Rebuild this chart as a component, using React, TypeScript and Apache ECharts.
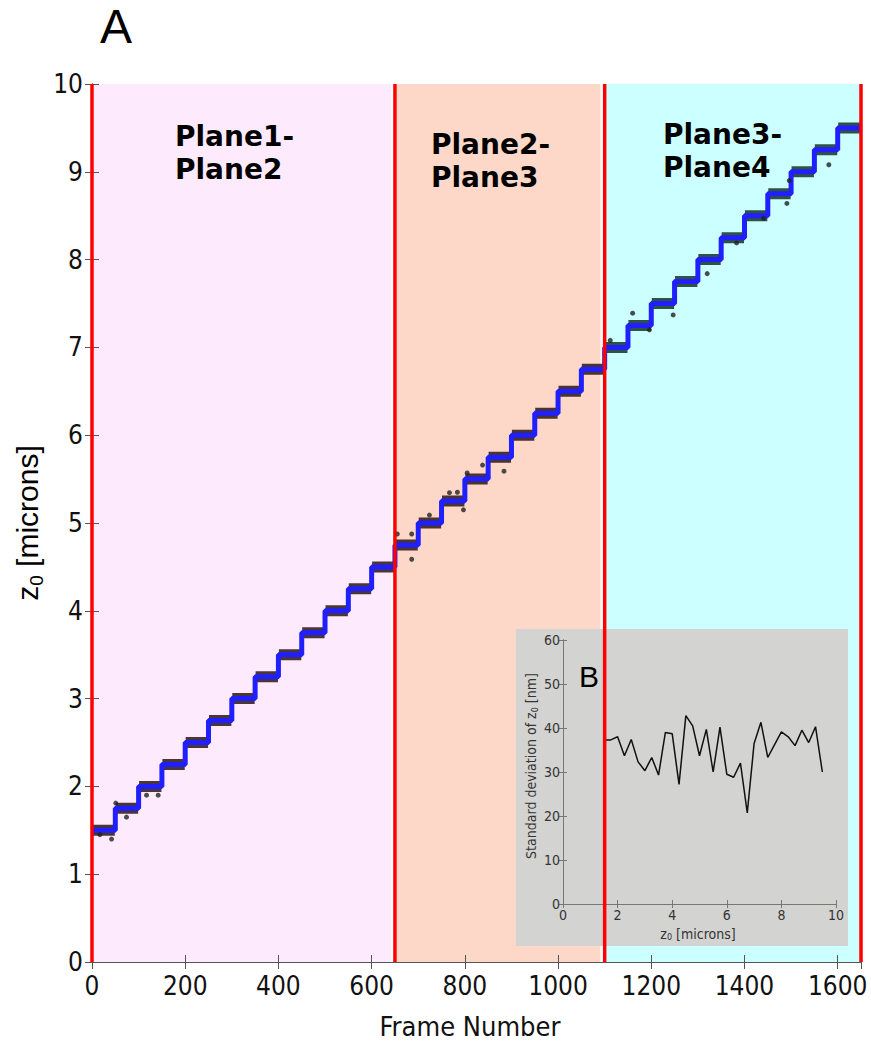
import React, { useEffect, useRef } from "react";
import * as echarts from "echarts";

// ---- data ----
const stepFrames = [0, 50, 100, 150, 200, 250, 300, 350, 400, 450, 500, 550, 600, 650, 700, 750, 800, 850, 900, 950, 1000, 1050, 1100, 1150, 1200, 1250, 1300, 1350, 1400, 1450, 1500, 1550, 1600, 1650];
const stepLevels = [1.5, 1.75, 2.0, 2.25, 2.5, 2.75, 3.0, 3.25, 3.5, 3.75, 4.0, 4.25, 4.5, 4.75, 5.0, 5.25, 5.5, 5.75, 6.0, 6.25, 6.5, 6.75, 7.0, 7.25, 7.5, 7.75, 8.0, 8.25, 8.5, 8.75, 9.0, 9.25, 9.5];
const planeBounds = [0, 650, 1100, 1650];
const planeLabels = ["Plane1-\nPlane2", "Plane2-\nPlane3", "Plane3-\nPlane4"];
const xTickLabels = ["0", "200", "400", "600", "800", "1000", "1200", "1400", "1600"];
const dotFrames = [17, 42, 51, 74, 117, 142, 655, 686, 686, 724, 767, 784, 797, 805, 838, 884, 1112, 1160, 1196, 1247, 1320, 1383, 1441, 1491, 1496, 1581];
const dotValues = [1.45, 1.4, 1.81, 1.65, 1.9, 1.9, 4.875, 4.875, 4.587, 5.09, 5.345, 5.35, 5.15, 5.57, 5.66, 5.59, 7.08, 7.39, 7.2, 7.37, 7.84, 8.19, 8.47, 8.64, 8.9, 9.08];
// inset B: standard deviation of z0 (nm) at each z0 level (microns)
const insetStd = [37.3, 37.3, 38.0, 33.7, 37.4, 32.3, 30.3, 33.3, 29.3, 39.0, 38.7, 27.2, 42.8, 40.5, 33.7, 39.7, 30.0, 40.2, 29.5, 28.8, 32.0, 20.7, 36.5, 41.3, 33.3, 36.2, 39.1, 38.0, 36.0, 39.5, 36.7, 40.3, 30.0];

const bandColors = ["#fdebfd", "#fdd8c8", "#ccffff"];
const noiseColors = ["#2a1616", "#2a1616", "#143424"];
const NARROW = "'Liberation Sans Narrow', 'Arial Narrow', 'DejaVu Sans Condensed', sans-serif";
const SANS = "'Liberation Sans', Arial, sans-serif";

export default function App() {
  const ref = useRef<HTMLDivElement>(null);
  useEffect(() => {
    if (!ref.current) return;
    const chart = echarts.init(ref.current, undefined, { renderer: "svg" });

    const lastLevel = stepLevels[stepLevels.length - 1];
    const blueData: any[] = stepLevels.map((v, i) => [stepFrames[i], v]);
    blueData.push([stepFrames[stepFrames.length - 1], lastLevel]);

    const noiseSeries = planeLabels.map((_, p) => {
      const data: any[] = [];
      stepLevels.forEach((v, i) => {
        const s = stepFrames[i];
        const e = stepFrames[i + 1];
        if (s >= planeBounds[p] && s < planeBounds[p + 1]) {
          data.push([s + 1, v], [e - 1, v], [e, "-"]);
        }
      });
      return {
        type: "line",
        xAxisIndex: 0,
        yAxisIndex: 0,
        data,
        showSymbol: false,
        connectNulls: false,
        lineStyle: { color: noiseColors[p], width: 11, opacity: 0.85 },
        z: 2,
        silent: true,
      };
    });

    const redData: any[] = [];
    planeBounds.forEach((b) => {
      redData.push([b, 0], [b, 10], [b, "-"]);
    });

    const bandEnds = [642, 1091, 1650];
    const bands = planeLabels.map((_, p) => [
      { xAxis: planeBounds[p], itemStyle: { color: bandColors[p] } },
      { xAxis: bandEnds[p] },
    ]);

    const mainAxisLine = { show: true, lineStyle: { color: "#555", width: 1 } };
    const mainTick = { show: true, inside: true, length: 7, lineStyle: { color: "#555" } };
    const insetAxisLine = { show: true, lineStyle: { color: "#777", width: 1 } };
    const insetTick = { show: true, inside: true, length: 4, lineStyle: { color: "#777" } };

    const option: any = {
      animation: false,
      backgroundColor: "#ffffff",
      grid: [
        { left: 92, top: 84, width: 769, height: 878 },
        { left: 563, top: 640, width: 273, height: 264 },
      ],
      xAxis: [
        {
          gridIndex: 0, type: "value", min: 0, max: 1650, interval: 200, position: "bottom",
          axisLine: mainAxisLine, axisTick: mainTick, splitLine: { show: false },
          axisLabel: { fontSize: 26, color: "#111", fontFamily: NARROW, margin: 11, showMaxLabel: false,
            formatter: (v: number) => xTickLabels[Math.round(v / 200)] ?? "" },
          z: 3,
        },
        {
          gridIndex: 0, type: "value", min: 0, max: 1650, interval: 200, position: "top",
          axisLine: mainAxisLine, axisTick: mainTick, splitLine: { show: false }, axisLabel: { show: false }, z: 3,
        },
        {
          gridIndex: 1, type: "value", min: 0, max: 10, interval: 2, position: "bottom",
          axisLine: insetAxisLine, axisTick: insetTick, splitLine: { show: false },
          axisLabel: { fontSize: 14, color: "#333", fontFamily: NARROW, margin: 4 }, z: 11,
        },
        {
          gridIndex: 1, type: "value", min: 0, max: 10, interval: 2, position: "top",
          axisLine: insetAxisLine, axisTick: insetTick, splitLine: { show: false }, axisLabel: { show: false }, z: 11,
        },
      ],
      yAxis: [
        {
          gridIndex: 0, type: "value", min: 0, max: 10, interval: 1, position: "left",
          axisLine: mainAxisLine, axisTick: mainTick, splitLine: { show: false },
          axisLabel: { fontSize: 26, color: "#111", fontFamily: NARROW, margin: 9 }, z: 3,
        },
        {
          gridIndex: 0, type: "value", min: 0, max: 10, interval: 1, position: "right",
          axisLine: mainAxisLine, axisTick: mainTick, splitLine: { show: false }, axisLabel: { show: false }, z: 3,
        },
        {
          gridIndex: 1, type: "value", min: 0, max: 60, interval: 10, position: "left",
          axisLine: insetAxisLine, axisTick: insetTick, splitLine: { show: false },
          axisLabel: { fontSize: 14, color: "#333", fontFamily: NARROW, margin: 3 }, z: 11,
        },
        {
          gridIndex: 1, type: "value", min: 0, max: 60, interval: 10, position: "right",
          axisLine: insetAxisLine, axisTick: insetTick, splitLine: { show: false }, axisLabel: { show: false }, z: 11,
        },
      ],
      graphic: [
        { type: "text", left: 100, top: 2, z: 6, style: { text: "A", fontSize: 48, fontFamily: SANS, fill: "#000" } },
        { type: "text", x: 175, y: 120, z: 6, style: { text: planeLabels[0], fontSize: 28, fontWeight: "bold", fontFamily: "'DejaVu Sans', Verdana, sans-serif", lineHeight: 33, fill: "#000" } },
        { type: "text", x: 431, y: 128, z: 6, style: { text: planeLabels[1], fontSize: 28, fontWeight: "bold", fontFamily: "'DejaVu Sans', Verdana, sans-serif", lineHeight: 33, fill: "#000" } },
        { type: "text", x: 663, y: 118, z: 6, style: { text: planeLabels[2], fontSize: 28, fontWeight: "bold", fontFamily: "'DejaVu Sans', Verdana, sans-serif", lineHeight: 33, fill: "#000" } },
        {
          type: "text", x: 27, y: 523, rotation: Math.PI / 2, z: 6,
          style: {
            text: "{a|z}{s|0}{a| [microns]}", align: "center", verticalAlign: "middle",
            rich: {
              a: { fontSize: 30, fontFamily: SANS, fill: "#000", lineHeight: 38 },
              s: { fontSize: 19, fontFamily: SANS, fill: "#000", verticalAlign: "bottom", lineHeight: 38 },
            },
          },
        },
        { type: "text", x: 470, y: 1026, z: 6, style: { text: "Frame Number", fontSize: 27, fontFamily: NARROW, fill: "#111", align: "center", verticalAlign: "middle" } },
        { type: "rect", shape: { x: 516, y: 629, width: 332, height: 317 }, z: 8, style: { fill: "#d3d3d1" } },
        { type: "text", x: 589, y: 676, z: 12, style: { text: "B", fontSize: 30, fontFamily: SANS, fill: "#000", align: "center", verticalAlign: "middle" } },
        {
          type: "text", x: 531, y: 766, rotation: Math.PI / 2, z: 12,
          style: {
            text: "{a|Standard deviation of z}{s|0}{a| [nm]}", align: "center", verticalAlign: "middle",
            rich: {
              a: { fontSize: 14, fontFamily: NARROW, fill: "#333", lineHeight: 16 },
              s: { fontSize: 9, fontFamily: NARROW, fill: "#333", verticalAlign: "bottom", lineHeight: 16 },
            },
          },
        },
        {
          type: "text", x: 698, y: 934, z: 12,
          style: {
            text: "{a|z}{s|0}{a| [microns]}", align: "center", verticalAlign: "middle",
            rich: {
              a: { fontSize: 14, fontFamily: NARROW, fill: "#333", lineHeight: 15 },
              s: { fontSize: 9, fontFamily: NARROW, fill: "#333", verticalAlign: "bottom", lineHeight: 15 },
            },
          },
        },
      ],
      series: [
        {
          type: "line", xAxisIndex: 0, yAxisIndex: 0, data: [], silent: true,
          markArea: { silent: true, data: bands },
        },
        ...noiseSeries,
        {
          type: "line", xAxisIndex: 0, yAxisIndex: 0, data: blueData, step: "end", showSymbol: false,
          lineStyle: { color: "#1f1fff", width: 5 }, z: 3, silent: true,
        },
        {
          type: "scatter", xAxisIndex: 0, yAxisIndex: 0,
          data: dotFrames.map((f, i) => [f, dotValues[i]]),
          symbolSize: 5, itemStyle: { color: "#222" }, z: 4, silent: true,
        },
        {
          type: "line", xAxisIndex: 0, yAxisIndex: 0, data: redData, silent: true, z: 20, zlevel: 1,
          showSymbol: false, connectNulls: false, clip: false,
          lineStyle: { color: "#ff0000", width: 3.5 },
        },
        {
          type: "line", xAxisIndex: 2, yAxisIndex: 2, z: 11, showSymbol: false, silent: true,
          data: stepLevels.map((v, i) => [v, insetStd[i]]),
          lineStyle: { color: "#111", width: 1.5 },
        },
      ],
    };
    chart.setOption(option);
    return () => chart.dispose();
  }, []);
  return (
    <div
      ref={ref}
      style={{ position: "absolute", left: 0, top: 0, width: 871, height: 1049 }}
    />
  );
}
